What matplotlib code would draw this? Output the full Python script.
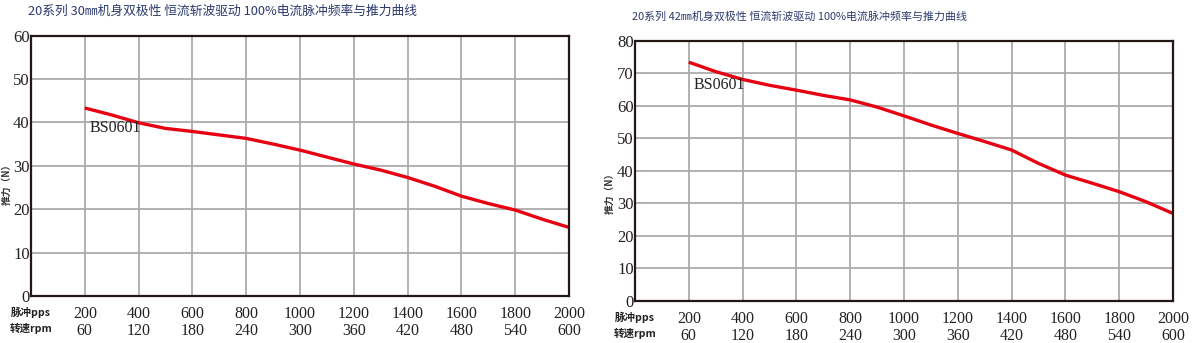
import matplotlib
matplotlib.use("Agg")
import matplotlib.pyplot as plt
from matplotlib.transforms import offset_copy

# data
pps = [200, 300, 400, 500, 600, 700, 800, 900, 1000, 1100,
       1200, 1300, 1400, 1500, 1600, 1700, 1800, 1900, 2000]
force_30mm = [43.3, 41.7, 39.9, 38.6, 37.9, 37.1, 36.3, 35.0, 33.6, 32.0,
              30.4, 29.0, 27.3, 25.3, 23.0, 21.3, 19.8, 17.7, 15.8]
force_42mm = [73.4, 70.5, 68.1, 66.3, 64.8, 63.2, 61.8, 59.6, 56.9, 54.1,
              51.5, 49.0, 46.4, 42.3, 38.7, 36.2, 33.6, 30.5, 26.9]
tick_pps = [200, 400, 600, 800, 1000, 1200, 1400, 1600, 1800, 2000]
tick_rpm = [60, 120, 180, 240, 300, 360, 420, 480, 540, 600]

title_30 = "20系列 30㎜机身双极性 恒流斩波驱动 100%电流脉冲频率与推力曲线"
title_42 = "20系列 42㎜机身双极性 恒流斩波驱动 100%电流脉冲频率与推力曲线"

cjk = ["Noto Sans CJK SC", "DejaVu Sans"]
serif = ["Liberation Serif", "DejaVu Serif"]
W, H = 1200, 343

fig = plt.figure(figsize=(12, 3.43), dpi=100)


def draw(box, force, ymax, title, title_xy, title_size, ylab_xy, lab_xy):
    ax = fig.add_axes(box)
    ax.plot(pps, force, color="#e60012", lw=2.4, solid_capstyle="butt")
    ax.set_xlim(0, 2000)
    ax.set_ylim(0, ymax)
    ax.set_xticks(tick_pps)
    ax.set_xticklabels([f"{p}\n{r}" for p, r in zip(tick_pps, tick_rpm)],
                       fontfamily=serif, fontsize=11.5, color="#222222",
                       linespacing=1.1)
    ax.set_yticks(range(0, ymax + 1, 10))
    ax.set_yticklabels([str(v) for v in range(0, ymax + 1, 10)],
                       fontfamily=serif, fontsize=12, color="#222222")
    ax.tick_params(length=0, pad=1)
    ax.tick_params(axis="x", pad=7)
    ax.grid(True, color="#ababab", lw=1.3)
    ax.set_axisbelow(True)
    for s in ax.spines.values():
        s.set_color("#231815")
        s.set_linewidth(1.6)
    ax.text(216, lab_xy, "BS0601", fontfamily=serif, fontsize=11.5,
            color="#222222", ha="left", va="center")
    fig.text(title_xy[0] / W, 1 - title_xy[1] / H, title, fontfamily=cjk,
             fontsize=title_size, color="#2b3a6e", ha="left", va="center")
    fig.text(ylab_xy[0] / W, 1 - ylab_xy[1] / H, "推力（N）", fontfamily=cjk,
             fontsize=7, fontweight="bold", color="#333333", rotation=90,
             ha="center", va="center")
    t1 = offset_copy(ax.transAxes, fig=fig, y=-16, units="dots")
    t2 = offset_copy(ax.transAxes, fig=fig, y=-32, units="dots")
    ax.text(0, 0, "脉冲pps", transform=t1, fontfamily=cjk, fontsize=7.6,
            fontweight="bold", color="#222222", ha="center", va="center")
    ax.text(0, 0, "转速rpm", transform=t2, fontfamily=cjk, fontsize=7.6,
            fontweight="bold", color="#222222", ha="center", va="center")
    return ax


draw([31 / W, 1 - 296 / H, 538 / W, 260.5 / H], force_30mm, 60, title_30,
     (28, 11), 9.2, (7, 182), 38.7)
draw([635 / W, 1 - 301 / H, 538 / W, 260.3 / H], force_42mm, 80, title_42,
     (632, 16), 7.9, (610, 191), 66.4)

fig.savefig("out.png", dpi=100)
